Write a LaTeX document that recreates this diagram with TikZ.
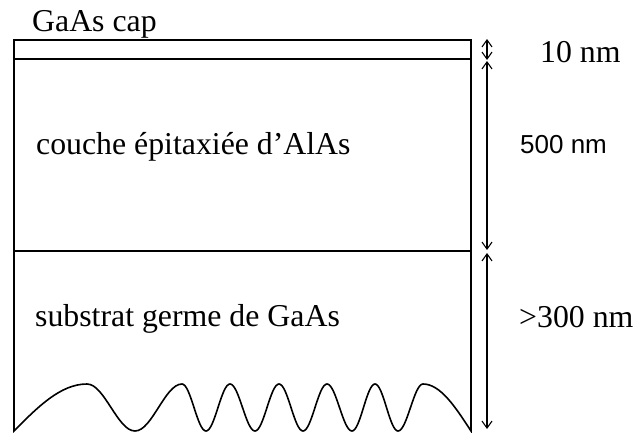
\documentclass[tikz,border=0pt]{standalone}
\usepackage{fontspec}
\setmainfont{Liberation Serif}
\newfontfamily\arialfont{Liberation Sans}
\usetikzlibrary{arrows.meta, positioning}
\tikzset{
  layertext/.style={font=\fontsize{31.8}{36}\selectfont, anchor=base west, inner sep=0pt},
  sanstext/.style={font=\arialfont\fontsize{26}{30}\selectfont, anchor=base west, inner sep=0pt},
  layerline/.style={line width=1.6pt},
  dimarrow/.style={line width=1.1pt,
    {Straight Barb[length=7pt,width=10pt]}-{Straight Barb[length=7pt,width=10pt]}}
}

\begin{document}
\begin{tikzpicture}[x=1pt,y=1pt]
  \useasboundingbox (0,0) rectangle (635,432);
  % the stack: cap, AlAs layer, substrate with its rough back side
  \draw[layerline] (14,392) -- (14,1) sin (87,48)
    cos (111,24.5) sin (135,1) cos (158.5,24.5) sin (182,48)
    cos (194,24.5) sin (206,1) cos (218,24.5) sin (230,48)
    cos (242.5,24.5) sin (255,1) cos (267,24.5) sin (279,48)
    cos (291,24.5) sin (303,1) cos (315,24.5) sin (327,48)
    cos (339.5,24.5) sin (352,1) cos (363.5,24.5) sin (375,48)
    cos (386.5,24.5) sin (398,1) cos (410.5,24.5) sin (423,48)
    cos (471,1)
    -- (471,392) -- cycle;
  \draw[layerline] (14,373) -- (471,373);
  \draw[layerline] (14,181) -- (471,181);
  \node[layertext] (caplabel) at (32,400) {GaAs cap};
  \node[layertext] (epilabel) at (36,277) {couche épitaxiée d’AlAs};
  \node[layertext] (sublabel) at (35,106) {substrat germe de GaAs};
  % thickness marks
  \coordinate (captop) at (487,393);
  \coordinate (capbot) at (487,372);
  \coordinate (epitop) at (487,371);
  \coordinate (epibot) at (487,182);
  \coordinate (subtop) at (487,179);
  \coordinate (subbot) at (487,3);
  \draw[dimarrow] (captop) -- (capbot);
  \draw[dimarrow] (epitop) -- (epibot);
  \draw[dimarrow] (subtop) -- (subbot);
  \node[layertext] (capsize) at (540,369) {10 nm};
  \node[sanstext] (episize) at (520,279) {500 nm};
  \node[layertext] (subsize) at (519,105) {>300 nm};
\end{tikzpicture}
\end{document}
